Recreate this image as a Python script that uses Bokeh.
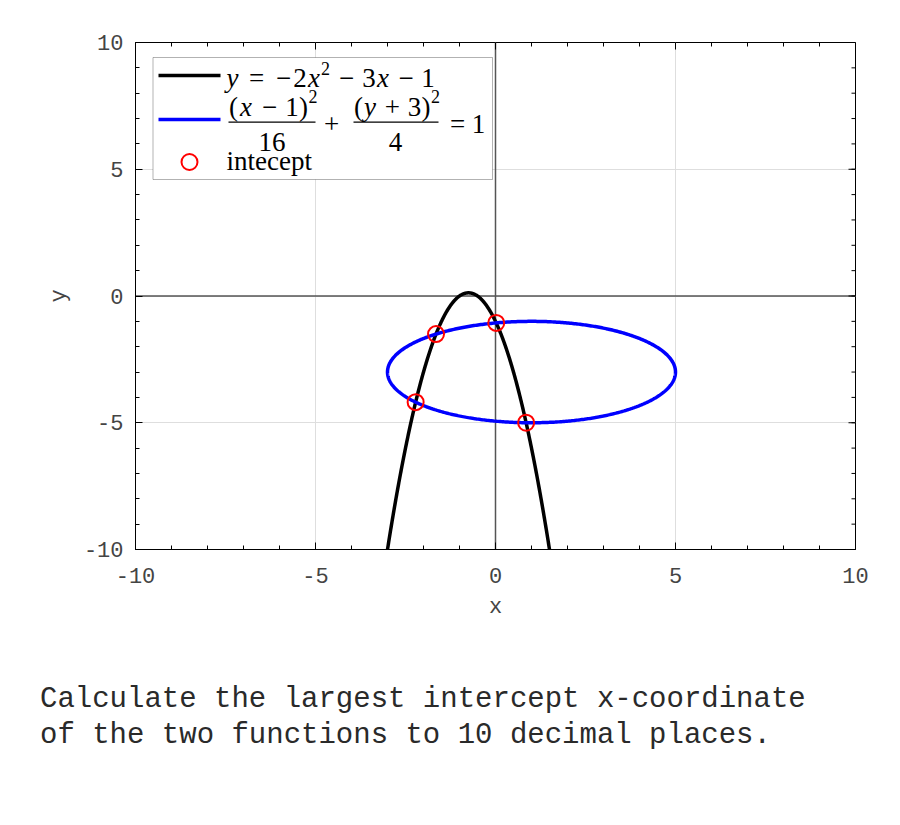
import numpy as np
from bokeh.plotting import figure
from bokeh.layouts import column
from bokeh.models import (SingleIntervalTicker, Span, BoxAnnotation, Label, Div)
from bokeh.embed import file_html
from bokeh.resources import INLINE

# ---------------- data ----------------
PARABOLA_COEFFS = [-2, -3, -1]          # y = -2x^2 - 3x - 1
PARABOLA_X_SPAN = [-3, 1.5]             # plotted x interval (y reaches -10 at both ends)
ELLIPSE_CENTER = [1, -3]                # (x-1)^2/16 + (y+3)^2/4 = 1
ELLIPSE_SEMI_AXES = [4, 2]
AXIS_RANGE = [-10, 10]
X_TICKS = [-10, -5, 0, 5, 10]
X_TICK_LABELS = ["-10", "-5", "0", "5", "10"]
Y_TICKS = [-10, -5, 0, 5, 10]
Y_TICK_LABELS = ["-10", "-5", "0", "5", "10"]
QUESTION = ["Calculate the largest intercept x-coordinate",
            "of the two functions to 10 decimal places."]

# curves from the equations shown in the legend
par = np.poly1d(PARABOLA_COEFFS)
xp = np.linspace(PARABOLA_X_SPAN[0], PARABOLA_X_SPAN[1], 500)
yp = par(xp)
h, k = ELLIPSE_CENTER
a, b = ELLIPSE_SEMI_AXES
t = np.linspace(0, 2 * np.pi, 600)
xe = h + a * np.cos(t)
ye = k + b * np.sin(t)
quartic = np.poly1d([1, -h]) ** 2 / a ** 2 + (par - k) ** 2 / b ** 2 - 1
r = quartic.roots
xi = np.sort(r[np.abs(r.imag) < 1e-9].real)
yi = par(xi)

# ---------------- layout helpers (page pixels -> data) ----------------
FX0, FX1, FY0, FY1 = 135, 855, 42, 549
XSPAN = AXIS_RANGE[1] - AXIS_RANGE[0]
def dx(px):
    return AXIS_RANGE[0] + (px - FX0) * XSPAN / (FX1 - FX0)
def dy(py):
    return AXIS_RANGE[1] - (py - FY0) * XSPAN / (FY1 - FY0)
def lx(n):  # pixel length -> data length (x)
    return n * XSPAN / (FX1 - FX0)
def ly(n):
    return n * XSPAN / (FY1 - FY0)

p = figure(width=892, height=640, x_range=tuple(AXIS_RANGE), y_range=tuple(AXIS_RANGE),
           output_backend="svg", toolbar_location=None,
           min_border_left=FX0, min_border_right=892 - FX1, min_border_top=FY0,
           min_border_bottom=640 - FY1)
p.background_fill_color = "white"
p.border_fill_color = "white"
p.outline_line_color = "black"
p.outline_line_width = 1

TICK_FONT = "Liberation Mono"
TICK_COLOR = "#444444"
MAJ_IN, MIN_IN = 7, 4

for ax, ticks, labels in ((p.xaxis[0], X_TICKS, X_TICK_LABELS),
                          (p.yaxis[0], Y_TICKS, Y_TICK_LABELS)):
    ax.ticker = SingleIntervalTicker(interval=5, num_minor_ticks=5)
    ax.major_tick_in = MAJ_IN
    ax.major_tick_out = 0
    ax.minor_tick_in = MIN_IN
    ax.minor_tick_out = 0
    ax.axis_line_color = "black"
    ax.major_tick_line_color = "black"
    ax.minor_tick_line_color = "black"
    ax.major_label_text_font = TICK_FONT
    ax.major_label_text_color = TICK_COLOR
    ax.major_label_text_font_size = "22px"
    ax.major_label_overrides = {v: s for v, s in zip(ticks, labels)}
    ax.axis_label_text_font = TICK_FONT
    ax.axis_label_text_font_size = "22px"
    ax.axis_label_text_font_style = "normal"
    ax.axis_label_text_color = TICK_COLOR
p.xaxis[0].axis_label = "x"
p.yaxis[0].axis_label = "y"
p.xaxis[0].major_label_standoff = 18
p.yaxis[0].major_label_standoff = 12
p.xaxis[0].axis_label_standoff = 9
p.yaxis[0].axis_label_standoff = 9

# inward ticks on the top and right edges of the box
major_pos = np.arange(AXIS_RANGE[0], AXIS_RANGE[1] + 0.5, 5)
minor_pos = np.arange(AXIS_RANGE[0], AXIS_RANGE[1] + 0.5, 1)
for pos, n in ((major_pos, MAJ_IN), (minor_pos, MIN_IN)):
    p.segment(x0=pos, y0=[AXIS_RANGE[1]] * len(pos), x1=pos,
              y1=[AXIS_RANGE[1] - ly(n)] * len(pos), line_color="black", line_width=1)
    p.segment(x0=[AXIS_RANGE[1]] * len(pos), y0=pos, x1=[AXIS_RANGE[1] - lx(n)] * len(pos),
              y1=pos, line_color="black", line_width=1)

p.xgrid.ticker = SingleIntervalTicker(interval=5)
p.ygrid.ticker = SingleIntervalTicker(interval=5)
p.grid.grid_line_color = "#dedede"
p.grid.grid_line_width = 1

# zero lines
p.add_layout(Span(location=0, dimension="height", line_color="#555555",
                  line_width=1.5, level="underlay"))
p.add_layout(Span(location=0, dimension="width", line_color="#555555",
                  line_width=1.5, level="underlay"))

# curves
p.line(xp, yp, line_color="black", line_width=3.5)
p.line(xe, ye, line_color="#0000ff", line_width=3.5)
p.scatter(xi, yi, marker="circle", size=16, fill_color=None,
          line_color="#ff0000", line_width=2)

# ---------------- legend (drawn by hand) ----------------
p.add_layout(BoxAnnotation(left=dx(152.5), right=dx(492), top=dy(57), bottom=dy(179),
                           fill_color="white", fill_alpha=1.0, line_color="black",
                           line_width=1, level="underlay"))
p.segment(x0=[dx(158)], y0=[dy(75)], x1=[dx(220)], y1=[dy(75)],
          line_color="black", line_width=3.5)
p.segment(x0=[dx(158)], y0=[dy(119)], x1=[dx(220)], y1=[dy(119)],
          line_color="#0000ff", line_width=3.5)
p.scatter([dx(189)], [dy(161.5)], marker="circle", size=16, fill_color=None,
          line_color="#ff0000", line_width=2)
# fraction bars
p.segment(x0=[dx(228), dx(353)], y0=[dy(121.7)] * 2, x1=[dx(315), dx(438)],
          y1=[dy(121.7)] * 2, line_color="black", line_width=1.2)

SERIF = "Liberation Serif"
BIG, SUP = "27px", "18px"
SHIFT = -6   # svg text baseline correction
tokens = [
    # text, center px, baseline px, italic, size
    ("y", 232, 83, True, BIG), ("=", 256, 83, False, BIG), ("\u2212", 283, 83, False, BIG),
    ("2", 299.5, 83, False, BIG), ("x", 313.5, 83, True, BIG), ("2", 325, 74, False, SUP),
    ("\u2212", 346, 83, False, BIG), ("3", 368.5, 83, False, BIG), ("x", 382.5, 83, True, BIG),
    ("\u2212", 405.5, 83, False, BIG), ("1", 427.5, 83, False, BIG),
    ("(", 233, 112, False, BIG), ("x", 245.5, 112, True, BIG), ("\u2212", 269, 112, False, BIG),
    ("1", 291.5, 112, False, BIG), (")", 303, 112, False, BIG), ("2", 312.5, 102, False, SUP),
    ("16", 271.5, 147, False, BIG), ("+", 331, 129, False, BIG),
    ("(", 358, 112, False, BIG), ("y", 369.5, 112, True, BIG), ("+", 391.8, 112, False, BIG),
    ("3", 414, 112, False, BIG), (")", 425.6, 112, False, BIG), ("2", 435, 102, False, SUP),
    ("4", 395, 147, False, BIG), ("=", 457, 129, False, BIG), ("1", 478, 129, False, BIG),
]
for txt, cx, by, it, sz in tokens:
    p.add_layout(Label(x=dx(cx), y=dy(by + SHIFT), text=txt, text_align="center",
                       text_baseline="alphabetic", text_font=SERIF, text_font_size=sz,
                       text_font_style="italic" if it else "normal", text_color="black"))
p.add_layout(Label(x=dx(226), y=dy(166 + SHIFT), text="intecept", text_align="left",
                   text_baseline="alphabetic", text_font=SERIF, text_font_size=BIG,
                   text_color="black"))

# ---------------- question text ----------------
div = Div(text="<br>".join(QUESTION), width=860, height=120, margin=(42, 0, 0, 40),
          styles={"font-family": "'Liberation Mono', monospace", "font-size": "29px",
                  "line-height": "36px", "color": "#2a2a2a", "white-space": "nowrap"})

layout = column(p, div, spacing=0)
open("out.html", "w").write(file_html(layout, INLINE))
